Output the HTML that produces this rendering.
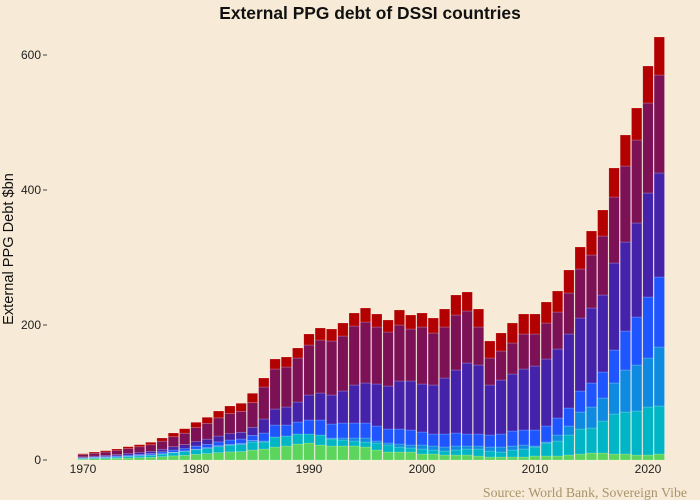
<!DOCTYPE html>
<html><head><meta charset="utf-8"><style>
body{margin:0;background:#f7ead6;}
svg{display:block;font-family:"Liberation Sans",sans-serif;}
</style></head><body>
<svg id="s" width="700" height="500" xmlns="http://www.w3.org/2000/svg">
<rect width="700" height="500" fill="#f7ead6"/>
<text x="370" y="19" text-anchor="middle" font-size="17.4" font-weight="bold" fill="#111">External PPG debt of DSSI countries</text>
<g font-size="12" fill="#222" text-anchor="end">
<text x="41" y="464">0</text><text x="41" y="329">200</text><text x="41" y="194">400</text><text x="41" y="59">600</text>
</g>
<g stroke="#444" stroke-width="1"><line x1="43" y1="460" x2="47" y2="460"/><line x1="43" y1="325" x2="47" y2="325"/><line x1="43" y1="190" x2="47" y2="190"/><line x1="43" y1="55" x2="47" y2="55"/></g>
<text transform="translate(13,249) rotate(-90)" text-anchor="middle" font-size="14.6" fill="#111">External PPG Debt $bn</text>
<g font-size="12" fill="#222" text-anchor="middle">
<text x="83" y="473">1970</text><text x="196" y="473">1980</text><text x="309" y="473">1990</text><text x="422" y="473">2000</text><text x="535" y="473">2010</text><text x="648" y="473">2020</text>
</g>
<g id="bars"></g>
<text x="687" y="497" text-anchor="end" font-size="13.8" fill="#a8946c" font-family="Liberation Serif,serif">Source: World Bank, Sovereign Vibe</text>
</svg>
<script>
var C=["#5bd55b","#00b5c5","#0e8ae0","#1e55ff","#4422aa","#7d1155","#b30000"];
var early={1970:453.7,1971:452,1972:450.7,1973:449,1974:446.7,1975:444.7,1976:442.3,1977:438,1978:433,1979:428.7,1980:422.3,1981:417.3,1982:411,1983:406,1984:403.3,1985:393.3};
var fr=[.15,.12,.02,.08,.12,.37,.14];
var T={
1986:[449,442,441,433,419,387,378],
1987:[447,437,437,425,409,369,359],
1988:[446,436,436,425,407,367,357],
1989:[444,434,434,422,402,358,348],
1990:[443,434,434,420,395,345,334],
1991:[445,435,435,420,393,340,328],
1992:[446,439,438,424,395,341,329],
1993:[446,440,438,423,391,336,323],
1994:[446,441,438,423,385,326,313],
1995:[447,442,438,423,383,322,308],
1996:[450,443,441,426,384,327,314],
1997:[452,445,443,429,386,332,320],
1998:[452,447,444,429,381,325,310],
1999:[452,448,445,430,381,329,315],
2000:[454,449,445,432,384,327,313],
2001:[454,450,446,434,385,333,318],
2002:[455,451,447,434,378,327,309],
2003:[455,450,446,433,370,315,295],
2004:[455,449,446,434,363,311,292],
2005:[456,449,446,434,365,327,309],
2006:[457,451,447,435,385,358,341],
2007:[457,452,447,434,380,351,333],
2008:[457,450,446,431,374,343,323],
2009:[457,449,445,430,369,334,314],
2010:[456,447,446,430,366,334,314],
2011:[456,443,442,426,359,323,302],
2012:[456,441,435,418,349,312,291],
2013:[455,435,426,408,334,293,270],
2014:[454,429,412,391,318,269,247],
2015:[453,428,407,383,308,255,231],
2016:[453,421,398,372,295,236,210],
2017:[454,414,383,350,263,197,168],
2018:[454,412,370,331,242,166,135],
2019:[455,411,365,317,223,140,108],
2020:[455,407,358,297,193,103,66],
2021:[454,406,347,277,173,75,37]};
for(var y in early){var h=460-early[y],a=[],c=460;for(var i=0;i<7;i++){c-=h*fr[i];a.push(c);}T[y]=a;}
var g=document.getElementById('bars'),s='';
for(var yr=1970;yr<=2021;yr++){var t=T[yr],x=83+(yr-1970)*11.3-5.2,prev=460;
for(var i=0;i<7;i++){var h=prev-t[i];if(h>0)s+='<rect x="'+x.toFixed(1)+'" y="'+t[i].toFixed(1)+'" width="10.4" height="'+h.toFixed(1)+'" fill="'+C[i]+'" stroke="rgba(255,255,255,0.35)" stroke-width="0.5"/>';prev=t[i];}}
g.innerHTML=s;
</script>
</body></html>
